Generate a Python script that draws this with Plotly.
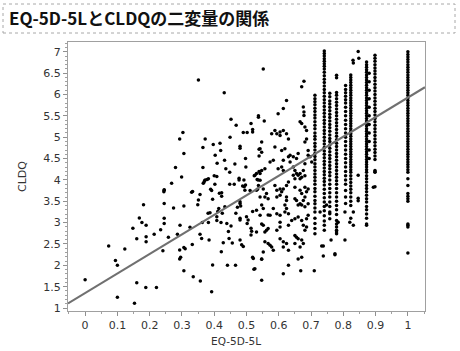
import plotly.graph_objects as go

# ---------------- data ----------------
# scattered points, x < 0.3
left_pts = [(0.0,1.66),(0.073,2.45),(0.094,2.11),(0.1,2.0),(0.1,1.25),(0.123,2.38),(0.148,2.87),
    (0.16,2.62),(0.153,1.11),(0.16,1.59),(0.181,3.42),(0.168,3.11),(0.176,3.0),(0.189,2.94),
    (0.189,2.67),(0.189,2.55),(0.188,1.48),(0.221,1.48),(0.214,2.73),(0.234,2.83),(0.241,2.34),
    (0.245,2.98),(0.245,3.10),(0.244,3.72),(0.245,3.76),(0.245,3.45),(0.258,2.66),(0.268,3.92),
    (0.274,3.34),(0.286,2.73),(0.293,2.36),(0.293,2.15),(0.296,2.19),(0.294,2.94),(0.28,4.29),
    (0.299,4.07),(0.293,4.96),(0.245,3.77)]

# scattered points, 0.3 - 0.54
mid_pts = [(0.303,5.11),(0.351,6.34),(0.431,6.04),(0.537,5.50),(0.452,5.42),(0.514,5.32),(0.468,5.28),
    (0.519,5.18),(0.519,5.12),(0.49,5.11),(0.502,5.11),(0.372,4.96),(0.449,5.0),(0.397,4.83),
    (0.418,4.86),(0.365,4.76),(0.48,4.79),(0.48,4.74),(0.42,4.69),(0.306,4.62),(0.403,4.58),
    (0.539,4.72),(0.497,4.50),(0.539,4.56),(0.432,4.46),(0.409,4.39),(0.464,4.37),(0.365,4.29),
    (0.436,4.26),(0.498,4.30),(0.448,4.18),(0.539,4.20),(0.524,4.10),(0.40,4.10),(0.408,4.08),
    (0.372,4.0),(0.382,4.03),(0.368,3.94),(0.477,4.04),(0.477,4.0),(0.492,4.0),(0.536,4.0),
    (0.402,3.90),(0.448,3.90),(0.462,3.90),(0.497,3.88),(0.534,3.78),
    (0.306,3.39),(0.306,2.42),(0.31,2.39),(0.306,1.87),(0.33,3.71),(0.333,3.73),(0.325,2.89),
    (0.332,2.49),(0.335,1.73),(0.349,3.42),(0.351,3.53),(0.356,3.66),(0.356,2.73),(0.361,2.63),
    (0.357,1.63),(0.363,3.0),(0.366,3.92),(0.37,3.98),(0.378,4.01),(0.381,3.22),(0.387,3.23),
    (0.382,3.0),(0.384,2.59),(0.389,3.78),(0.392,3.75),(0.395,3.55),(0.392,1.38),(0.395,2.01),
    (0.408,3.14),(0.408,3.05),(0.411,3.26),(0.414,3.33),(0.416,3.69),(0.423,3.70),(0.423,3.62),
    (0.425,3.22),(0.421,3.0),(0.428,2.53),(0.422,2.32),(0.433,3.37),(0.439,2.98),(0.444,2.79),
    (0.441,2.0),(0.452,2.92),(0.446,2.63),(0.456,2.52),(0.466,2.0),(0.467,3.22),(0.472,3.36),
    (0.48,3.06),(0.48,3.10),(0.482,3.39),(0.48,3.45),(0.48,3.49),(0.48,2.59),(0.485,2.48),
    (0.49,2.44),(0.488,3.86),(0.493,3.84),(0.495,3.76),(0.5,3.14),(0.505,3.06),(0.502,2.98),
    (0.511,3.75),(0.514,2.87),(0.516,2.80),(0.514,2.71),(0.519,3.26),(0.521,2.16),(0.523,1.91),
    (0.526,4.11),(0.533,4.01),(0.531,3.76)]

# scattered points, 0.53 - 0.70 and strays near the columns
right_pts = [(0.552,6.60),(0.678,6.31),(0.671,6.18),(0.624,5.86),(0.614,5.67),(0.598,5.55),(0.537,5.47),
    (0.555,5.38),(0.676,5.71),(0.678,5.59),(0.678,5.51),(0.666,5.36),(0.671,5.32),(0.681,5.24),
    (0.686,5.16),(0.588,5.16),(0.594,5.08),(0.604,5.12),(0.604,5.04),(0.578,5.08),(0.614,5.16),
    (0.624,5.08),(0.63,4.96),(0.547,4.89),(0.542,4.73),(0.547,4.65),(0.588,4.77),(0.619,4.73),
    (0.609,4.69),(0.681,4.89),(0.686,4.96),(0.63,4.54),(0.614,4.46),(0.635,4.58),(0.645,4.54),
    (0.655,4.50),(0.66,4.62),(0.583,4.46),(0.573,4.42),(0.691,4.69),(0.691,4.58),(0.697,4.54),
    (0.702,4.42),(0.557,4.26),(0.547,4.22),(0.542,4.15),(0.598,4.26),(0.609,4.30),(0.614,4.22),
    (0.635,4.42),(0.645,4.30),(0.65,4.22),(0.681,4.38),(0.676,4.22),(0.655,4.15),
    (0.531,4.15),(0.542,3.99),(0.537,3.87),(0.552,3.79),(0.562,3.68),(0.557,3.60),(0.567,3.56),
    (0.542,3.60),(0.547,3.41),(0.552,3.33),(0.531,3.29),(0.542,3.17),(0.573,3.17),(0.567,3.18),
    (0.583,3.33),(0.594,3.21),(0.604,3.17),(0.594,3.60),(0.604,3.64),(0.624,3.60),(0.624,3.52),
    (0.619,3.41),(0.624,3.33),(0.619,3.25),(0.63,3.21),(0.588,3.87),(0.604,3.79),(0.594,3.76),
    (0.609,3.72),(0.63,3.95),(0.624,3.87),(0.614,3.79),(0.547,2.97),(0.552,2.94),(0.567,2.86),
    (0.557,2.78),(0.562,2.82),(0.531,2.78),(0.604,3.01),(0.604,2.90),(0.594,2.82),(0.63,2.94),
    (0.64,3.05),(0.65,3.09),(0.66,3.13),(0.671,3.05),(0.676,2.94),(0.686,3.09),(0.691,3.17),
    (0.557,2.55),(0.567,2.51),(0.573,2.47),(0.578,2.43),(0.583,2.35),(0.552,2.31),(0.547,2.15),
    (0.604,2.62),(0.614,2.55),(0.624,2.51),(0.63,2.35),(0.614,2.43),(0.65,2.70),(0.655,2.66),
    (0.66,2.62),(0.671,2.59),(0.676,2.51),(0.65,2.51),(0.666,2.43),(0.66,2.15),(0.671,2.19),
    (0.63,2.0),(0.614,1.80),(0.547,1.65),(0.668,1.87),(0.71,1.87),(0.526,1.92),(0.519,2.19),
    (0.547,2.14),(0.681,2.82),(0.686,2.90),(0.66,3.41),(0.671,3.41),(0.681,3.37),(0.691,3.44),
    (0.666,3.44),(0.676,3.52),(0.681,3.60),(0.671,3.68),(0.686,3.72),(0.666,3.76),(0.65,3.83),
    (0.681,3.83),(0.691,3.79),(0.645,4.11),(0.65,4.03),(0.66,4.11),(0.666,4.15),(0.666,4.03),
    (0.671,4.06),(0.681,4.10),(0.65,3.56),(0.655,3.52),(0.728,3.25),(0.748,3.41),(0.762,2.59),
    (0.733,2.45),(0.738,2.45),(0.738,2.22),(0.774,2.25),(0.846,7.01),(0.848,6.85),(0.831,6.74),
    (0.83,6.8),(0.846,4.11),(0.846,3.57),(0.846,3.51),(0.805,3.25),(0.831,3.25),(0.82,3.01),
    (0.831,2.94),(0.784,3.01),(0.779,2.78),(0.805,2.59),(0.774,2.27),(0.893,3.83),(0.898,4.18)]

# vertical columns of tied EQ-5D-5L values: (x, list of CLDQ values)
col_0712 = [5.98,5.9,5.83,5.76,5.68,5.6,5.52,5.45,5.36,5.28,5.2,5.1,5.02,4.95,4.86,4.78,4.7,4.62,
    4.55,4.47,4.38,4.3,4.22,4.14,4.06,3.98,3.9,3.8,3.72,3.62,3.52,3.44,3.34,3.25,3.1,2.98,2.86,2.74]
col_0741 = [7.02,6.96,6.9,6.84,6.78,6.72,6.66,6.6,6.52,6.44,6.36,6.28,6.2,6.12,6.04,5.96,5.88,5.8,
    5.72,5.64,5.56,5.48,5.4,5.32,5.24,5.16,5.08,5.0,4.92,4.84,4.76,4.68,4.6,4.52,4.44,4.36,4.28,
    4.2,4.12,4.04,3.96,3.88,3.78,3.68,3.58,3.48,3.38,3.28,3.16,3.04,2.94,2.82]
col_0758 = [6.03,5.95,5.85,5.78,5.7,5.62,5.54,5.46,5.38,5.3,5.22,5.14,5.05,4.97,4.9,4.82,4.74,4.66,
    4.58,4.5,4.42,4.34,4.26,4.18,4.1,4.0,3.9,3.8,3.7,3.6,3.48,3.38,3.25,3.21,3.09]
col_0779 = [6.45,6.39,6.05,5.98,5.9,5.82,5.74,5.66,5.58,5.5,5.42,5.34,5.26,5.18,5.1,5.02,4.94,4.86,
    4.78,4.7,4.62,4.54,4.46,4.38,4.3,4.22,4.14,4.06,3.98,3.9,3.8,3.7,3.6,3.5,3.4,3.3,3.19,3.05,
    2.97,2.9,2.82,2.74]
col_0807 = [6.21,6.12,6.04,5.96,5.88,5.8,5.7,5.6,5.5,5.4,5.3,5.2,5.1,5.0,4.9,4.8,4.7,4.6,4.5,4.4,
    4.3,4.2,4.1,4.0,3.9,3.75,3.6,3.45]
col_0823 = [6.46,6.4,6.34,6.28,6.22,6.16,6.1,6.04,5.98,5.92,5.86,5.8,5.74,5.68,5.62,5.56,5.5,5.44,
    5.38,5.32,5.26,5.2,5.14,5.08,5.02,4.96,4.9,4.84,4.78,4.72,4.66,4.6,4.54,4.48,4.42,4.36,4.3,
    4.24,4.18,4.1,4.02,3.94,3.86,3.78,3.7,3.6,3.5,3.4,3.1]
col_0872 = [6.76,6.7,6.64,6.58,6.52,6.46,6.4,6.34,6.28,6.22,6.16,6.1,6.04,5.98,5.92,5.86,5.8,5.74,
    5.68,5.62,5.56,5.5,5.44,5.38,5.32,5.26,5.2,5.14,5.08,5.02,4.96,4.9,4.84,4.78,4.72,4.66,4.6,
    4.54,4.48,4.42,4.36,4.3,4.24,4.18,4.1,4.03,3.95,3.87,3.8,3.72,3.64,3.56,3.48,3.38,3.3,3.2,
    3.1,2.97,2.94]
col_0880 = [6.5,6.3,6.1,5.9,5.7,5.5,5.3,5.1,4.9,4.7,4.5]
col_0898 = [6.92,6.85,6.78,6.7,6.62,6.55,6.48,6.4,6.32,6.24,6.16,6.08,6.0,5.92,5.84,5.76,5.68,5.6,
    5.52,5.44,5.36,5.28,5.2,5.12,5.04,4.96,4.88,4.8,4.72,4.64,4.56,4.48,4.22,4.19,3.84]
col_1000 = [7.0,6.94,6.88,6.82,6.76,6.7,6.64,6.58,6.52,6.46,6.4,6.34,6.28,6.22,6.16,6.1,6.04,5.98,
    5.92,5.86,5.8,5.74,5.68,5.62,5.56,5.5,5.44,5.38,5.32,5.26,5.2,5.14,5.08,5.02,4.96,4.9,4.84,
    4.78,4.72,4.66,4.6,4.54,4.48,4.42,4.36,4.3,4.24,4.18,4.03,3.87,3.68,3.62,3.56,3.5,2.97,2.94,
    2.9,2.29]
columns = [(0.712, col_0712), (0.741, col_0741), (0.758, col_0758), (0.779, col_0779),
           (0.807, col_0807), (0.823, col_0823), (0.872, col_0872), (0.880, col_0880),
           (0.898, col_0898), (1.0, col_1000)]

# fitted line
fit_intercept = 1.35
fit_slope = 4.58
x_ticks = [0, 0.1, 0.2, 0.3, 0.4, 0.5, 0.6, 0.7, 0.8, 0.9, 1]
y_ticks = [1, 1.5, 2, 2.5, 3, 3.5, 4, 4.5, 5, 5.5, 6, 6.5, 7]

# ---------------- build ----------------
xs, ys = [], []
for pts in (left_pts, mid_pts, right_pts):
    for x, y in pts:
        xs.append(x); ys.append(y)
for cx, cys in columns:
    for y in cys:
        xs.append(cx); ys.append(y)

x_range = [-0.053, 1.053]
y_range = [0.93, 7.23]

fig = go.Figure()
fig.add_trace(go.Scatter(x=xs, y=ys, mode="markers",
                         marker=dict(color="black", size=3.5), hoverinfo="skip", showlegend=False))
fig.add_trace(go.Scatter(x=x_range, y=[fit_intercept + fit_slope * v for v in x_range], mode="lines",
                         line=dict(color="#707070", width=2.2), hoverinfo="skip", showlegend=False))

W, H = 460, 351
ml, mr, mt, mb = 68, 35, 42, 40
pw, ph = W - ml - mr, H - mt - mb

def px2paper_x(px):
    return (px - ml) / pw

def px2paper_y(py):
    return (H - mb - py) / ph

tickfont = dict(family="DejaVu Sans", size=11, color="#333333")
axis_common = dict(showgrid=False, zeroline=False, showline=True, linecolor="#a0a0a0", linewidth=1,
                   mirror=True, ticks="outside", ticklen=4, tickcolor="#909090", tickfont=tickfont)

fig.update_layout(
    width=W, height=H, margin=dict(l=ml, r=mr, t=mt, b=mb, pad=0),
    paper_bgcolor="white", plot_bgcolor="white",
    xaxis=dict(range=x_range, tickvals=x_ticks, ticktext=[f"{v:g}" for v in x_ticks],
               minor=dict(dtick=0.05, tick0=0, ticks="outside", ticklen=2, tickcolor="#a0a0a0"),
               **axis_common),
    yaxis=dict(range=y_range, tickvals=y_ticks, ticktext=[f"{v:g}" for v in y_ticks],
               minor=dict(dtick=0.1, tick0=0, ticks="outside", ticklen=2, tickcolor="#a0a0a0"),
               **axis_common),
    shapes=[dict(type="rect", xref="paper", yref="paper",
                 x0=px2paper_x(3), x1=px2paper_x(455), y0=px2paper_y(33), y1=px2paper_y(4),
                 line=dict(color="#a8a8a8", width=1, dash="dot"), fillcolor="rgba(0,0,0,0)")],
    annotations=[
        dict(text="<b>EQ-5D-5LとCLDQの二変量の関係</b>", xref="paper", yref="paper",
             x=px2paper_x(7), y=px2paper_y(18), xanchor="left", yanchor="middle", showarrow=False,
             font=dict(family="Noto Sans CJK JP", size=17, color="#111111")),
        dict(text="EQ-5D-5L", xref="paper", yref="paper", x=px2paper_x(236), y=px2paper_y(341),
             xanchor="center", yanchor="middle", showarrow=False,
             font=dict(family="DejaVu Sans", size=10.5, color="#333333")),
        dict(text="CLDQ", xref="paper", yref="paper", x=px2paper_x(22), y=px2paper_y(177),
             xanchor="center", yanchor="middle", showarrow=False, textangle=-90,
             font=dict(family="DejaVu Sans", size=11, color="#333333")),
    ],
)

fig.write_html("out.html", config={"displayModeBar": False, "staticPlot": True},
               post_script="document.body.style.margin='0';document.body.style.overflow='hidden';")
